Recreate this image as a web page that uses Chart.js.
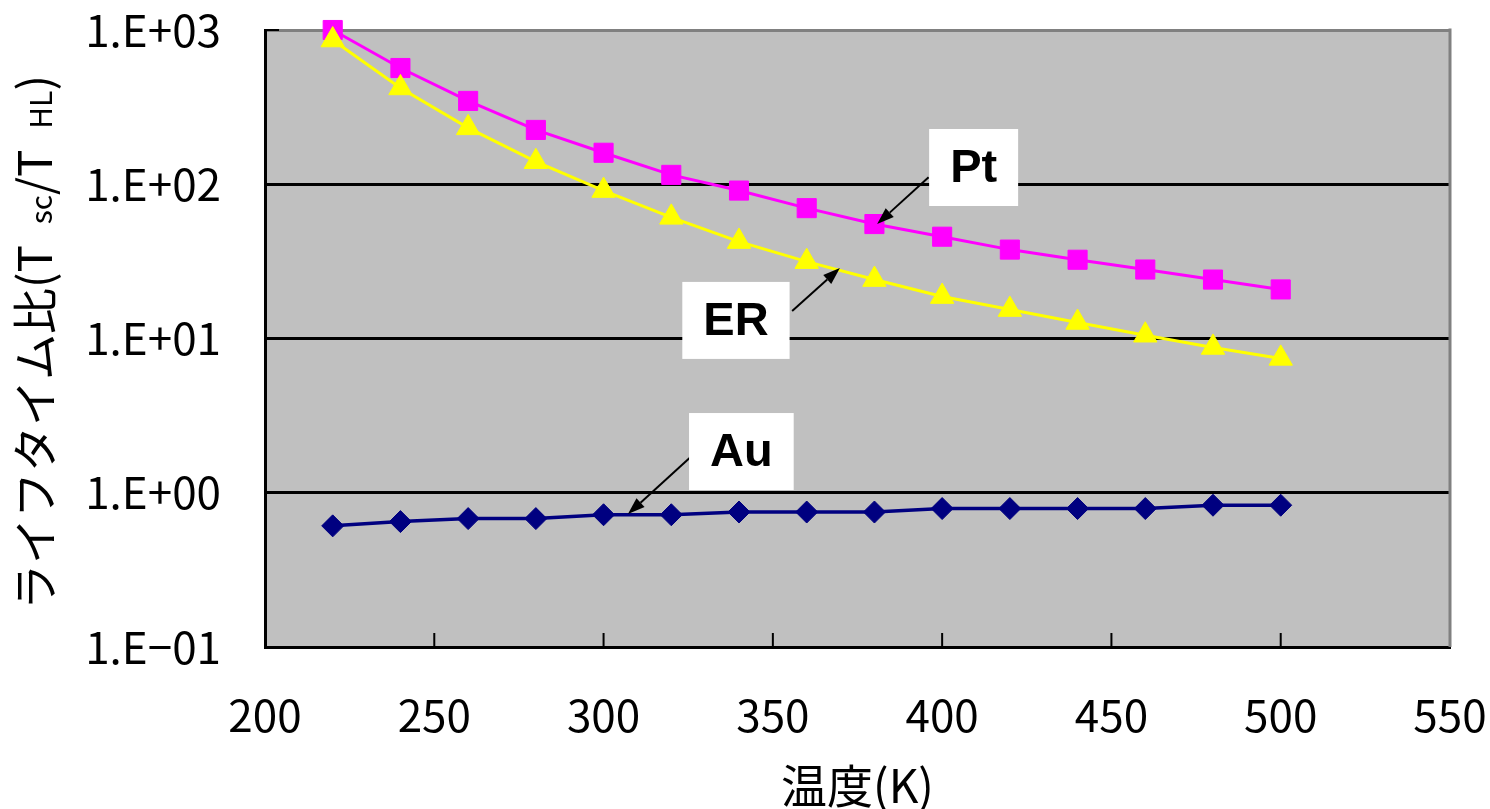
<!DOCTYPE html>
<html lang="ja">
<head>
  <meta charset="UTF-8">
  <title>lifetime ratio</title>
  <script src="https://cdn.jsdelivr.net/npm/chart.js@4.4.1/dist/chart.umd.min.js"></script>
  <style>
    body {
      margin: 0;
      background: white;
    }
  </style>
</head>
<body>
  <canvas id="myChart" width="1490" height="809"></canvas>
  <script>
    // temperatures (K)
    const temps = [220, 240, 260, 280, 300, 320, 340, 360, 380, 400, 420, 440, 460, 480, 500];
    // lifetime ratio tau_sc / tau_HL
    const ptVals = [1000, 567, 347, 225, 160, 115, 91, 70, 55.2, 45.7, 37.7, 32.4, 28, 24.1, 20.8];
    const erVals = [861, 421, 232, 140, 91, 61, 42.5, 31.5, 24.1, 18.7, 15.4, 12.7, 10.5, 8.75, 7.43];
    const auVals = [0.61, 0.65, 0.68, 0.68, 0.72, 0.72, 0.75, 0.75, 0.75, 0.79, 0.79, 0.79, 0.79, 0.83, 0.83];

    const xTickVals = [200, 250, 300, 350, 400, 450, 500, 550];
    const yTickVals = [0.1, 1, 10, 100, 1000];
    const yTickLabels = ['1.E\u221201', '1.E+00', '1.E+01', '1.E+02', '1.E+03'];

    // callout labels, anchored in data units
    const noteText = ['Pt', 'ER', 'Au'];
    const noteX = [409.3, 339.1, 340.7];
    const noteY = [128.4, 13.1, 1.85];
    const arrowFromX = [396, 355.7, 325.8];
    const arrowFromY = [111, 15.1, 1.71];
    const arrowToX = [380.8, 369.8, 307.2];
    const arrowToY = [55.2, 28.6, 0.727];

    const jpFont = '"Noto Sans CJK JP", "Noto Sans", sans-serif';

    function pts(vals) {
      return temps.map((t, i) => ({ x: t, y: vals[i] }));
    }

    const plotFrame = {
      id: 'plotFrame',
      beforeDraw(chart) {
        const a = chart.chartArea, ctx = chart.ctx;
        ctx.save();
        ctx.fillStyle = '#c0c0c0';
        ctx.fillRect(a.left, a.top, a.right - a.left, a.bottom - a.top);
        ctx.restore();
      },
      beforeDatasetsDraw(chart) {
        const a = chart.chartArea, ctx = chart.ctx;
        const xs = chart.scales.x, ys = chart.scales.y;
        ctx.save();
        // right border
        ctx.strokeStyle = '#808080';
        ctx.lineWidth = 3;
        ctx.beginPath();
        ctx.moveTo(a.right, a.top - 1.5);
        ctx.lineTo(a.right, a.bottom);
        ctx.stroke();
        // inward tick marks
        ctx.strokeStyle = 'black';
        ctx.lineWidth = 2;
        ctx.beginPath();
        xTickVals.slice(1, -1).forEach(v => {
          const px = xs.getPixelForValue(v);
          ctx.moveTo(px, a.bottom);
          ctx.lineTo(px, a.bottom - 14);
        });
        yTickVals.forEach(v => {
          const py = ys.getPixelForValue(v);
          ctx.moveTo(a.left, py);
          ctx.lineTo(a.left + 14, py);
        });
        ctx.stroke();
        ctx.restore();
      },
      afterDatasetsDraw(chart) {
        const ctx = chart.ctx;
        const xs = chart.scales.x, ys = chart.scales.y;
        ctx.save();
        ctx.font = 'bold 47px "Liberation Sans", Arial, sans-serif';
        ctx.textAlign = 'center';
        ctx.textBaseline = 'middle';
        noteText.forEach((txt, i) => {
          // arrow
          const x1 = xs.getPixelForValue(arrowFromX[i]), y1 = ys.getPixelForValue(arrowFromY[i]);
          const x2 = xs.getPixelForValue(arrowToX[i]), y2 = ys.getPixelForValue(arrowToY[i]);
          const ang = Math.atan2(y2 - y1, x2 - x1);
          const hl = 17, hw = 6;
          const bx = x2 - hl * Math.cos(ang), by = y2 - hl * Math.sin(ang);
          ctx.strokeStyle = 'black';
          ctx.fillStyle = 'black';
          ctx.lineWidth = 2;
          ctx.beginPath();
          ctx.moveTo(x1, y1);
          ctx.lineTo(bx, by);
          ctx.stroke();
          ctx.beginPath();
          ctx.moveTo(x2, y2);
          ctx.lineTo(bx - hw * Math.sin(ang), by + hw * Math.cos(ang));
          ctx.lineTo(bx + hw * Math.sin(ang), by - hw * Math.cos(ang));
          ctx.closePath();
          ctx.fill();
          // white box + text
          const cx = xs.getPixelForValue(noteX[i]), cy = ys.getPixelForValue(noteY[i]);
          const w = ctx.measureText(txt).width + 42, h = 77;
          ctx.fillStyle = 'white';
          ctx.fillRect(cx - w / 2, cy - h / 2, w, h);
          ctx.fillStyle = 'black';
          ctx.fillText(txt, cx, cy + 2);
        });
        ctx.restore();
      },
      afterDraw(chart) {
        // y axis title with small subscripts
        const a = chart.chartArea, ctx = chart.ctx;
        const parts = [
          ['ライフタイム比(', 46], ['T  ', 46], ['sc', 30], ['/', 46],
          ['T  ', 46], ['HL', 30], [')', 46]
        ];
        ctx.save();
        ctx.fillStyle = 'black';
        ctx.textBaseline = 'alphabetic';
        ctx.textAlign = 'left';
        let total = 0;
        parts.forEach(p => {
          ctx.font = p[1] + 'px ' + jpFont;
          total += ctx.measureText(p[0]).width;
        });
        ctx.translate(52, (a.top + a.bottom) / 2 + 4);
        ctx.rotate(-Math.PI / 2);
        let x = -total / 2;
        parts.forEach(p => {
          ctx.font = p[1] + 'px ' + jpFont;
          ctx.fillText(p[0], x, 0);
          x += ctx.measureText(p[0]).width;
        });
        ctx.restore();
      }
    };

    const ctx = document.getElementById('myChart');

    new Chart(ctx, {
      type: 'line',
      data: {
        datasets: [{
          label: 'ER',
          data: pts(erVals),
          borderColor: '#ffff00',
          backgroundColor: '#ffff00',
          borderWidth: 3,
          pointStyle: 'triangle',
          pointRadius: 13.5,
          pointBorderWidth: 1,
          clip: false
        }, {
          label: 'Pt',
          data: pts(ptVals),
          borderColor: '#ff00ff',
          backgroundColor: '#ff00ff',
          borderWidth: 3,
          pointStyle: 'rect',
          pointRadius: 13.5,
          pointBorderWidth: 1,
          clip: false
        }, {
          label: 'Au',
          data: pts(auVals),
          borderColor: '#000080',
          backgroundColor: '#000080',
          borderWidth: 3.5,
          pointStyle: 'rectRot',
          pointRadius: 11,
          pointBorderWidth: 1,
          clip: false
        }]
      },
      options: {
        responsive: false,
        animation: false,
        devicePixelRatio: 1,
        layout: { padding: { left: 0, top: 30, right: 40, bottom: 0 } },
        plugins: {
          legend: { display: false },
          tooltip: { enabled: false }
        },
        scales: {
          x: {
            type: 'linear',
            min: 200,
            max: 550,
            afterBuildTicks: s => { s.ticks = xTickVals.map(v => ({ value: v })); },
            afterFit: s => {
              s.height = 162;
              s.paddingLeft = 0;
              s.paddingRight = 0;
            },
            grid: { display: false, drawTicks: false },
            border: { display: true, color: 'black', width: 3 },
            ticks: {
              color: 'black',
              padding: 42,
              maxRotation: 0,
              font: { family: jpFont, size: 44 }
            },
            title: {
              display: true,
              text: '温度(K)',
              color: 'black',
              padding: 0,
              font: { family: jpFont, size: 46, lineHeight: 1 }
            }
          },
          y: {
            type: 'logarithmic',
            min: 0.1,
            max: 1000,
            afterBuildTicks: s => { s.ticks = yTickVals.map(v => ({ value: v, major: true })); },
            afterFit: s => {
              s.width = 265;
              s.paddingTop = 0;
              s.paddingBottom = 0;
            },
            grid: {
              drawTicks: false,
              lineWidth: 3,
              color: c => (c.tick && c.tick.value === 1000) ? '#808080' : 'black'
            },
            border: { display: true, color: 'black', width: 3 },
            ticks: {
              color: 'black',
              padding: 44,
              font: { family: jpFont, size: 44 },
              callback: v => {
                const i = yTickVals.indexOf(v);
                return i >= 0 ? yTickLabels[i] : '';
              }
            }
          }
        }
      },
      plugins: [plotFrame]
    });
  </script>
</body>
</html>
